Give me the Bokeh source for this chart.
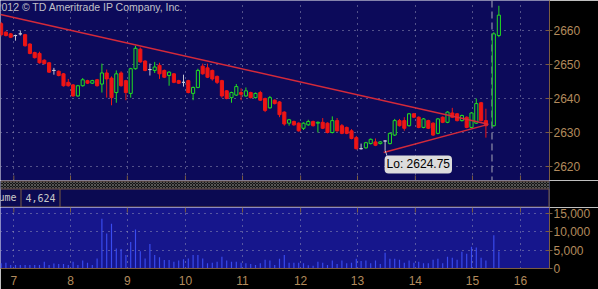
import numpy as np
from bokeh.plotting import figure
from bokeh.layouts import column
from bokeh.models import (Range1d, LinearAxis, FixedTicker, Grid, Label, Span,
                          NumeralTickFormatter, CustomJSTickFormatter, ColumnDataSource)
from bokeh.embed import file_html
from bokeh.resources import INLINE

# ---------------- data (5-minute bars) ----------------
bar_x = list(range(102)) + [102.65, 103.7]

opens = [2662, 2659.5, 2659, 2658.5, 2659, 2658.75, 2656, 2653.5, 2653.25, 2651.25,
         2650.5, 2648.25, 2648, 2647.25, 2644.75, 2644, 2640.75, 2643.75, 2645.25, 2644.5,
         2645.5, 2644.25, 2647.5, 2646, 2641.75, 2647.5, 2645.25, 2641.5, 2648.75, 2654.5,
         2651, 2648.5, 2648.25, 2649.75, 2648.25, 2646.75, 2647.25, 2645.25, 2644.75, 2645.25,
         2641.5, 2643.25, 2649.5, 2649, 2648.25, 2646.5, 2645.25, 2642.25, 2640.25, 2641,
         2641.75, 2640.75, 2641.75, 2640.25, 2641.75, 2640, 2637.25, 2639.5, 2639, 2636,
         2632.75, 2633.25, 2632.75, 2631.25, 2632.25, 2633.25, 2632.75, 2633, 2632.75, 2630,
         2633.5, 2632, 2631.5, 2630.5, 2628.5, 2625.25, 2625.5, 2626.75, 2627.25, 2626.75,
         2627.5, 2626.75, 2629.25, 2633.5, 2633.5, 2632, 2635.5, 2634.5, 2631.5, 2633.5,
         2632.75, 2629.75, 2634.5, 2633, 2635.75, 2635.5, 2633.5, 2634.5, 2631.5, 2632.75,
         2638.75, 2633.5, 2632, 2658.5]
highs = [2662.5, 2659.75, 2659.25, 2658.75, 2660, 2659, 2656.25, 2653.75, 2653.75, 2651.5,
         2650.75, 2649, 2648.25, 2647.5, 2645.75, 2644.25, 2644, 2646, 2645.5, 2645.5,
         2645.75, 2650.25, 2648.5, 2646.5, 2648.25, 2648, 2645.5, 2649, 2655.5, 2655,
         2651.25, 2650.25, 2650.75, 2650.5, 2648.5, 2648, 2647.5, 2645.5, 2647, 2645.5,
         2643.5, 2648.75, 2650.25, 2650.25, 2648.5, 2646.75, 2645.5, 2642.5, 2642, 2644.25,
         2643, 2643.25, 2642, 2641.75, 2642.25, 2640.25, 2640.75, 2639.75, 2639.25, 2636.25,
         2634, 2633.5, 2633, 2633, 2633.75, 2633.5, 2633.25, 2634.25, 2633, 2634.75,
         2634.25, 2632.5, 2631.75, 2631, 2629, 2626.75, 2627.25, 2628.25, 2628.25, 2627.5,
         2627.75, 2630, 2634, 2634, 2634.5, 2635.75, 2635.75, 2634.75, 2634.25, 2633.75,
         2633, 2634.25, 2634.75, 2636.25, 2637.25, 2635.75, 2635.25, 2634.75, 2636, 2640,
         2639, 2637, 2659.5, 2667.25]
lows = [2658.25, 2658.25, 2657.75, 2657, 2658.5, 2655.25, 2653, 2651.75, 2650.25, 2650,
        2647.5, 2647, 2646.5, 2643.5, 2643.5, 2640.5, 2640.5, 2643.5, 2644.25, 2644.25,
        2643.5, 2641.75, 2640.25, 2638, 2638.75, 2643.5, 2639.5, 2640.25, 2648.5, 2650.5,
        2648, 2646.75, 2647.5, 2645.75, 2646, 2643.75, 2644.5, 2644.25, 2643.5, 2641.5,
        2639.5, 2643, 2647, 2646, 2645.25, 2644.25, 2640.25, 2639.75, 2638.75, 2640.75,
        2639.5, 2640.5, 2640, 2640, 2639.25, 2636, 2637, 2638.25, 2634.5, 2632,
        2632, 2632, 2630.25, 2630.75, 2632, 2631.75, 2630, 2631, 2629.75, 2629.75,
        2630.25, 2629.5, 2629.5, 2628, 2625, 2625, 2625.25, 2626.5, 2626, 2626.5,
        2624.75, 2626.5, 2629, 2631.75, 2630.5, 2631.75, 2634.25, 2631.25, 2631.25, 2631,
        2629, 2629.5, 2632.75, 2632.75, 2634.25, 2633.25, 2633.25, 2631.25, 2631.25, 2632.5,
        2633.25, 2628.5, 2631.75, 2658]
closes = [2658.75, 2658.5, 2658, 2658.5, 2659, 2655.5, 2653.25, 2652, 2650.5, 2650.25,
          2647.75, 2648.25, 2646.75, 2643.75, 2643.75, 2640.75, 2643.75, 2645.5, 2644.5, 2645.25,
          2643.75, 2647.5, 2645.75, 2640.25, 2647.25, 2643.75, 2641.75, 2648.75, 2654.75, 2650.75,
          2648.25, 2648.5, 2649.25, 2647.25, 2646.25, 2647.75, 2644.75, 2644.5, 2644.75, 2641.75,
          2643.25, 2648.25, 2647.25, 2646.25, 2645.75, 2644.75, 2640.75, 2640, 2641.75, 2643.5,
          2641.25, 2642.25, 2640.25, 2641.5, 2639.5, 2636.5, 2640.25, 2638.5, 2635.25, 2632.5,
          2633.75, 2632.25, 2630.5, 2632.75, 2633.25, 2632, 2633, 2631.25, 2630, 2633.5,
          2630.5, 2629.75, 2629.75, 2628.25, 2625.25, 2625.25, 2627, 2628, 2626.25, 2627.25,
          2627.5, 2629.75, 2633.5, 2632, 2631.25, 2635.5, 2634.5, 2631.5, 2634, 2631.25,
          2629.25, 2634, 2633, 2636, 2634.5, 2633.5, 2635, 2631.5, 2635.75, 2638.5,
          2633.5, 2632, 2659, 2664.5]
volumes = [1400, 1500, 900, 900, 900, 900, 900, 900, 900, 1800,
           900, 1300, 1150, 1150, 900, 1800, 900, 2100, 1500, 900,
           2700, 13650, 9550, 12300, 5450, 5300, 3650, 7250, 10650, 4700,
           2700, 6650, 3650, 3000, 2250, 2250, 1800, 2100, 2450, 2700,
           3650, 3650, 2700, 1400, 1500, 1800, 3150, 2100, 1800, 1800,
           1500, 1400, 1150, 900, 1400, 2300, 2100, 900, 2600, 3650,
           1500, 1500, 1500, 1400, 800, 650, 1800, 1500, 900, 2100,
           1150, 2100, 1400, 1500, 2600, 2000, 2100, 1400, 2100, 1150,
           4250, 2600, 2600, 2300, 1500, 2100, 1500, 1800, 1400, 1400,
           2300, 2600, 1400, 3150, 2900, 2300, 4550, 4000, 5900, 5700,
           2900, 2100, 9100, 4624]

hour_pos = [2.65, 14.46, 26.3, 38.4, 50.3, 62.4, 74.25, 86.3, 98.2, 108.2]
hour_labels = ["7", "8", "9", "10", "11", "12", "13", "14", "15", "16"]
price_ticks = [2620, 2630, 2640, 2650, 2660]
volume_ticks = [0, 5000, 10000, 15000]
volume_grid = [5000, 10000, 15000]

trend_upper_x = [-0.125, 101.5]
trend_upper_y = [2664.7, 2632.4]
trend_lower_x = [79.7, 101.5]
trend_lower_y = [2624.1, 2632.4]
session_break = 102.27
copyright_text = "2012 \u00a9 TD Ameritrade IP Company, Inc."

# ---------------- styling ----------------
BG = "#0c0a5a"
VOLBG = "#16168c"
HDRBG = "#0b0a52"
TAN = "#b38b5d"
BROWN = "#7a5c40"
GRIDC = "#9898b8"
RED = "#ee1515"
GREEN = "#22dd22"
GRAY = "#c4c4d4"

o = np.array(opens); c = np.array(closes)
color = np.where(c > o, GREEN, np.where(c < o, RED, GRAY))
fill = np.where(c > o, BG, np.where(c < o, RED, GRAY))
src = ColumnDataSource(dict(x=bar_x, h=highs, l=lows, top=np.maximum(o, c), bottom=np.minimum(o, c),
                            color=list(color), fill=list(fill)))

x_range = Range1d(-0.125, 114.25)
y_lo, y_hi = 2615.9, 2668.8

common = dict(toolbar_location=None, output_backend="svg", x_axis_location=None, y_axis_location=None,
              min_border_left=0, min_border_right=49, min_border_top=0, border_fill_color="black",
              outline_line_color=None)

# ---------------- price panel ----------------
p = figure(frame_width=549, frame_height=180, x_range=x_range, y_range=Range1d(y_lo, y_hi),
           min_border_bottom=0, background_fill_color=BG, **common)
p.grid.visible = False
p.add_layout(Grid(dimension=0, ticker=FixedTicker(ticks=hour_pos), grid_line_color=GRIDC,
                  grid_line_dash="1 5"))
p.add_layout(Grid(dimension=1, ticker=FixedTicker(ticks=price_ticks), grid_line_color=GRIDC,
                  grid_line_dash="1 5"))
ay = LinearAxis(ticker=FixedTicker(ticks=price_ticks), axis_line_color=BROWN,
                major_tick_line_color=BROWN, major_tick_in=4, major_tick_out=3,
                minor_tick_line_color=None, major_label_standoff=1, major_label_text_color=TAN,
                major_label_text_font="Liberation Sans", major_label_text_font_size="12px")
p.add_layout(ay, "right")

p.add_layout(Span(location=session_break, dimension="height", line_color="#a8a8b8",
                  line_dash="7 4", line_width=1, level="underlay"))
tick_len = 5 / 3.4
p.segment(x0=hour_pos, y0=[y_lo] * len(hour_pos), x1=hour_pos, y1=[y_lo + tick_len] * len(hour_pos),
          line_color=BROWN, line_width=1)

p.segment(x0="x", y0="h", x1="x", y1="l", source=src, line_color="color", line_width=1)
p.vbar(x="x", top="top", bottom="bottom", width=0.65, fill_color="fill", line_color="color",
       line_width=1, source=src)

p.line(trend_upper_x, trend_upper_y, line_color="#d42a3a", line_width=1.5)
p.line(trend_lower_x, trend_lower_y, line_color="#d42a3a", line_width=1.5)

lo_i = int(np.argmin(lows))
p.segment(x0=[bar_x[lo_i]], y0=[lows[lo_i]], x1=[bar_x[lo_i] + 0.4], y1=[lows[lo_i] - 1.6],
          line_color=GRAY, line_width=1)
p.add_layout(Label(x=bar_x[lo_i], y=lows[lo_i], x_offset=-0.5, y_offset=-5,
                   text=f"Lo: {lows[lo_i]:.2f}", text_align="left", text_baseline="top",
                   text_color="black", text_font="Liberation Sans", text_font_size="12px",
                   background_fill_color="#dcdcdc", padding=2, border_radius=4))
p.add_layout(Label(x=x_range.end, y=closes[-1], x_offset=3, text=f"{closes[-1]:.1f}",
                   text_align="left", text_baseline="middle", text_color="black",
                   text_font="Liberation Sans", text_font_size="13px",
                   background_fill_color="#33dd33", padding=1, border_radius=3))
p.add_layout(Label(x=x_range.start, y=y_hi, x_offset=183, y_offset=0, text=copyright_text,
                   text_align="right", text_baseline="top", text_color="#c0c0c8",
                   text_font="Liberation Sans", text_font_size="10.5px"))

# ---------------- separator / header strip ----------------
m = figure(frame_width=549, frame_height=27, x_range=Range1d(0, 549), y_range=Range1d(0, 27),
           min_border_bottom=0, background_fill_color=HDRBG, **common)
m.grid.visible = False
m.quad(left=0, right=549, bottom=19, top=26, fill_color="#151515", line_color=None,
       hatch_pattern="diagonal_cross", hatch_color="#555555", hatch_scale=3, hatch_weight=1)
m.segment(x0=[0, 0, 0, 20.5, 59.5, 548.5], y0=[26.5, 18.5, 0.5, 0, 0, 0],
          x1=[549, 549, 549, 20.5, 59.5, 548.5], y1=[26.5, 18.5, 0.5, 18.5, 18.5, 18.5],
          line_color=BROWN, line_width=1)
m.add_layout(Label(x=16, y=10, text="Volume", text_align="right", text_baseline="middle",
                   text_color="#c8c8c8", text_font="DejaVu Sans Mono", text_font_size="10px"))
m.add_layout(Label(x=25, y=10, text=f"{volumes[-1]:,}", text_align="left", text_baseline="middle",
                   text_color="#c8c8c8", text_font="DejaVu Sans Mono", text_font_size="10px"))

# ---------------- volume panel ----------------
v_lo, v_hi = -80, 16750
v = figure(frame_width=549, frame_height=61, x_range=x_range, y_range=Range1d(v_lo, v_hi),
           min_border_bottom=21, background_fill_color=VOLBG, **common)
v.grid.visible = False
v.add_layout(Grid(dimension=0, ticker=FixedTicker(ticks=hour_pos), grid_line_color=GRIDC,
                  grid_line_dash="1 5"))
v.add_layout(Grid(dimension=1, ticker=FixedTicker(ticks=volume_grid), grid_line_color=GRIDC,
                  grid_line_dash="1 5"))
vy = LinearAxis(ticker=FixedTicker(ticks=volume_ticks), formatter=NumeralTickFormatter(format="0,0"),
                axis_line_color=BROWN, major_tick_line_color=BROWN, major_tick_in=4, major_tick_out=3,
                minor_tick_line_color=None, major_label_standoff=1, major_label_text_color=TAN,
                major_label_text_font="Liberation Sans", major_label_text_font_size="12px")
v.add_layout(vy, "right")
vx = LinearAxis(ticker=FixedTicker(ticks=hour_pos),
                formatter=CustomJSTickFormatter(args=dict(labels=hour_labels), code="return labels[index];"),
                axis_line_color=BROWN, major_tick_in=0, major_tick_out=0, minor_tick_line_color=None,
                major_tick_line_color=None, major_label_standoff=7, major_label_text_align="left",
                major_label_text_color=TAN, major_label_text_font="Liberation Sans",
                major_label_text_font_size="12px")
v.add_layout(vx, "below")
vtick = 5 * (v_hi - v_lo) / 61
v.segment(x0=hour_pos, y0=[v_hi] * len(hour_pos), x1=hour_pos, y1=[v_hi - vtick] * len(hour_pos),
          line_color=BROWN, line_width=1)
v.vbar(x=bar_x, top=volumes, bottom=0, width=0.24, fill_color="#3a4cf0", line_color=None)

layout = column(p, m, v, spacing=0)
open("out.html", "w").write(file_html(layout, INLINE))
